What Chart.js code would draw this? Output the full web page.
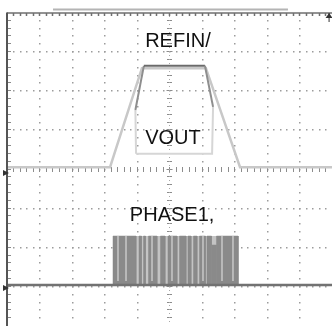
<!DOCTYPE html>
<html>
<head>
<meta charset="utf-8">
<style>
  html, body { margin: 0; padding: 0; background: #fff; }
  #scope { display: block; }
</style>
</head>
<body>
<canvas id="scope" width="332" height="326"></canvas>
<script src="https://cdn.jsdelivr.net/npm/chart.js@4/dist/chart.umd.min.js"></script>
<script>
// all values are in scope divisions (10 x 8 screen)
const xDivs = 10;
const yDivs = 8;

// ===== VOUT (light trace) =====
const voutX = [0, 3.14, 4.12, 6.09, 7.14, 9.97];
const voutY = [4.06, 4.06, 6.59, 6.59, 4.06, 4.06];

// ===== REFIN (dark top + light box) =====
const refinX = [3.94, 3.92, 4.18, 6.06, 6.31, 6.28, 3.94];
const refinY = [4.40, 5.52, 6.65, 6.65, 5.60, 4.40, 4.40];
const refinShade = ["#d6d6d6", "#8e8e8e", "#6a6a6a", "#8e8e8e", "#d6d6d6", "#d6d6d6"];

// ===== PHASE1 burst =====
const phaseBase = 1.05;
const burstStart = 3.23;
const burstEnd = 7.11;
const burstTop = 2.30;
const pulseStart = [3.231, 4.031, 4.169, 4.323, 4.692, 4.923, 5.277, 5.538, 5.708, 5.892, 6.123, 6.415];
const pulseEnd   = [3.938, 4.108, 4.231, 4.585, 4.831, 5.200, 5.477, 5.631, 5.815, 6.077, 6.262, 7.077];
const notchStart = 6.262;
const notchEnd = 6.415;
const notchLow = 2.07;
const stripeX = [3.385, 3.631, 4.431, 5.046, 6.0, 6.585, 6.923];

// ===== labels / markers =====
const labelText = ["REFIN/", "VOUT", "PHASE1,"];
const labelX = [4.22, 4.22, 3.75];
const labelY = [7.12, 4.65, 2.68];
const groundMarkY = [3.91, 0.97];
const triggerX = 9.88;

const toPts = (xs, ys) => xs.map((v, i) => ({ x: v, y: ys[i] }));

const pulsePts = [];
pulseStart.forEach((s, i) => {
  pulsePts.push(
    { x: s, y: phaseBase }, { x: s, y: burstTop },
    { x: pulseEnd[i], y: burstTop }, { x: pulseEnd[i], y: phaseBase }
  );
});
// notch part of the last block
const notchPts = toPts(
  [notchStart, notchStart, notchEnd, notchEnd],
  [phaseBase, notchLow, notchLow, phaseBase]
);

const stripePts = [];
stripeX.forEach(s => {
  stripePts.push({ x: s, y: phaseBase + 0.1 }, { x: s, y: burstTop }, { x: s, y: null });
});

const bandPts = toPts(
  [burstStart, burstStart, burstEnd, burstEnd],
  [phaseBase, burstTop, burstTop, phaseBase]
);

const graticule = {
  id: "graticule",
  beforeDatasetsDraw(chart) {
    const { ctx, chartArea: a, scales: { x, y } } = chart;
    ctx.save();
    ctx.fillStyle = "#9c9c9c";
    // dotted division lines
    for (let i = 1; i < xDivs; i++) {
      if (i === 5) continue;
      const px = Math.round(x.getPixelForValue(i));
      for (let k = 1; k < yDivs * 5; k++) {
        const py = Math.round(y.getPixelForValue(k / 5));
        ctx.fillRect(px - 1, py - 1, 1.5, 1.5);
      }
    }
    for (let j = 1; j < yDivs; j++) {
      if (j === 4) continue;
      const py = Math.round(y.getPixelForValue(j));
      for (let k = 1; k < xDivs * 5; k++) {
        const px = Math.round(x.getPixelForValue(k / 5));
        ctx.fillRect(px - 1, py - 1, 1.5, 1.5);
      }
    }
    // center cross with minor ticks
    ctx.strokeStyle = "#8c8c8c";
    ctx.lineWidth = 1;
    const cx = Math.round(x.getPixelForValue(5)) - 0.5;
    const cy = Math.round(y.getPixelForValue(4)) - 0.5;
    ctx.beginPath();
    for (let k = 1; k < yDivs * 5; k++) {
      const py = Math.round(y.getPixelForValue(k / 5)) - 0.5;
      const len = k % 5 === 0 ? 3 : 2.5;
      ctx.moveTo(cx - len, py);
      ctx.lineTo(cx + len, py);
    }
    for (let k = 1; k < xDivs * 5; k++) {
      const px = Math.round(x.getPixelForValue(k / 5)) - 0.5;
      ctx.moveTo(px, cy - 2.5);
      ctx.lineTo(px, cy + 2.5);
    }
    ctx.stroke();
    ctx.fillStyle = "#a8a8a8";
    for (let k = 1; k < yDivs * 10; k++) {
      ctx.fillRect(cx - 0.5, Math.round(y.getPixelForValue(k / 10)) - 1, 1, 1);
    }
    // frame top + left with ticks
    ctx.strokeStyle = "#707070";
    ctx.lineWidth = 1.5;
    ctx.beginPath();
    ctx.moveTo(a.left - 1, a.top);
    ctx.lineTo(a.right, a.top);
    for (let k = 1; k < xDivs * 5; k++) {
      const px = Math.round(x.getPixelForValue(k / 5)) - 0.5;
      ctx.moveTo(px, a.top);
      ctx.lineTo(px, a.top + 3);
    }
    ctx.stroke();
    ctx.strokeStyle = "#555";
    ctx.lineWidth = 2;
    ctx.beginPath();
    ctx.moveTo(a.left - 1, a.top - 0.5);
    ctx.lineTo(a.left - 1, a.bottom);
    ctx.stroke();
    ctx.strokeStyle = "#8a8a8a";
    ctx.lineWidth = 1;
    ctx.beginPath();
    for (let k = 1; k < yDivs * 5; k++) {
      const py = Math.round(y.getPixelForValue(k / 5)) - 0.5;
      ctx.moveTo(a.left, py);
      ctx.lineTo(a.left + 3, py);
    }
    ctx.stroke();
    // record bar above the screen
    ctx.strokeStyle = "#b4b4b4";
    ctx.lineWidth = 2;
    ctx.beginPath();
    ctx.moveTo(x.getPixelForValue(1.385), a.top - 3.5);
    ctx.lineTo(x.getPixelForValue(8.615), a.top - 3.5);
    ctx.stroke();
    ctx.restore();
  },
  afterDatasetsDraw(chart) {
    const { ctx, chartArea: a, scales: { x, y } } = chart;
    ctx.save();
    // ground markers
    ctx.fillStyle = "#333";
    groundMarkY.forEach(v => {
      const py = y.getPixelForValue(v);
      ctx.beginPath();
      ctx.moveTo(a.left - 5, py - 3);
      ctx.lineTo(a.left + 1, py);
      ctx.lineTo(a.left - 5, py + 3);
      ctx.closePath();
      ctx.fill();
    });
    // trigger marker
    const tx = x.getPixelForValue(triggerX);
    ctx.beginPath();
    ctx.moveTo(tx - 3.5, a.top + 5);
    ctx.lineTo(tx + 3.5, a.top + 5);
    ctx.lineTo(tx, a.top);
    ctx.closePath();
    ctx.fill();
    ctx.fillRect(tx - 0.5, a.top, 1, 9);
    // labels
    ctx.fillStyle = "#111";
    ctx.font = '20px "Liberation Sans", Arial, sans-serif';
    ctx.textAlign = "left";
    ctx.textBaseline = "alphabetic";
    labelText.forEach((t, i) => {
      ctx.fillText(t, x.getPixelForValue(labelX[i]), y.getPixelForValue(labelY[i]));
    });
    ctx.restore();
  }
};

const trace = (label, data, color, width, extra) => Object.assign({
  label: label,
  data: data,
  showLine: true,
  borderWidth: width,
  borderColor: color,
  pointRadius: 0,
  tension: 0
}, extra || {});

new Chart(document.getElementById("scope"), {
  type: "scatter",
  data: {
    datasets: [
      trace("REFIN", toPts(refinX, refinY), "#6a6a6a", 2, {
        segment: { borderColor: c => refinShade[c.p0DataIndex] }
      }),
      trace("VOUT", toPts(voutX, voutY), "#c8c8c8", 2.5),
      trace("PHASE1 base", toPts([0, 9.97], [phaseBase, phaseBase]), "#727272", 2.5),
      trace("PHASE1 stripes", stripePts, "#c8c8c8", 1.5, { spanGaps: false }),
      trace("PHASE1 notch", notchPts, "#8a8a8a", 0.5, {
        backgroundColor: "#8a8a8a", fill: { value: phaseBase }
      }),
      trace("PHASE1 pulses", pulsePts, "#8a8a8a", 0.5, {
        backgroundColor: "#8a8a8a", fill: { value: phaseBase }
      }),
      trace("PHASE1 band", bandPts, "#c4c4c4", 0, {
        backgroundColor: "#c4c4c4", fill: { value: phaseBase }
      })
    ]
  },
  options: {
    responsive: false,
    animation: false,
    devicePixelRatio: 1,
    layout: { padding: { left: 8, top: 13, right: 0, bottom: 0 } },
    plugins: {
      legend: { display: false },
      tooltip: { enabled: false }
    },
    scales: {
      x: { type: "linear", min: 0, max: 9.97, display: false },
      y: { type: "linear", min: 0, max: yDivs, display: false }
    }
  },
  plugins: [graticule]
});
</script>
</body>
</html>
